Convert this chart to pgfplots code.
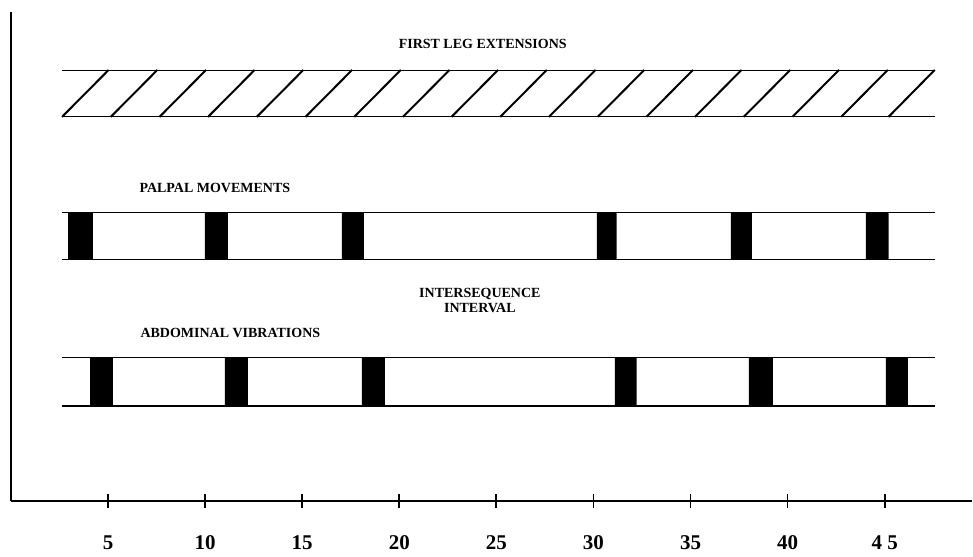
\documentclass[border=0pt]{standalone}
\usepackage{fontspec}
\setmainfont{Liberation Serif}
\usepackage{pgfplots}
\pgfplotsset{compat=1.18}
\begin{document}
\begin{tikzpicture}
\begin{axis}[
  scale only axis, width=481pt, height=245pt,
  xmin=0, xmax=49.5, ymin=0, ymax=490,
  axis x line=bottom, axis y line=left,
  axis line style={-, line width=1pt, black},
  ytick=\empty,
  xtick={5,10,...,45},
  xticklabels={5,10,15,20,25,30,35,40,4 5},
  xtick align=center, major tick length=7pt,
  tick style={line width=0.9pt, black},
  xticklabel style={font=\fontsize{10.5}{12}\selectfont\bfseries, yshift=-10pt},
  clip=false,
  cycle list={{black, solid, line width=1pt, mark=none}},
  unbounded coords=jump,
]
% first leg extensions (hatched band)
\addplot coordinates {(2.63,385) (47.58,385)};
\addplot coordinates {(2.63,432) (47.58,432)};
\addplot coordinates {
  (2.63,385) (5.03,432) (nan,nan)
  (5.14,385) (7.54,432) (nan,nan)
  (7.65,385) (10.05,432) (nan,nan)
  (10.15,385) (12.55,432) (nan,nan)
  (12.66,385) (15.06,432) (nan,nan)
  (15.17,385) (17.57,432) (nan,nan)
  (17.68,385) (20.08,432) (nan,nan)
  (20.19,385) (22.59,432) (nan,nan)
  (22.69,385) (25.09,432) (nan,nan)
  (25.20,385) (27.60,432) (nan,nan)
  (27.71,385) (30.11,432) (nan,nan)
  (30.22,385) (32.62,432) (nan,nan)
  (32.73,385) (35.13,432) (nan,nan)
  (35.23,385) (37.63,432) (nan,nan)
  (37.74,385) (40.14,432) (nan,nan)
  (40.25,385) (42.65,432) (nan,nan)
  (42.76,385) (45.16,432) (nan,nan)
  (45.20,385) (47.58,432)
};
% palpal movements
\addplot coordinates {(2.63,242) (47.58,242)};
\addplot coordinates {(2.63,289) (47.58,289)};
\addplot[fill=black, draw=none, mark=none] coordinates {
  (2.94,242) (4.22,242) (4.22,289) (2.94,289) (nan,nan)
  (9.99,242) (11.17,242) (11.17,289) (9.99,289) (nan,nan)
  (17.04,242) (18.18,242) (18.18,289) (17.04,289) (nan,nan)
  (30.18,242) (31.20,242) (31.20,289) (30.18,289) (nan,nan)
  (37.08,242) (38.16,242) (38.16,289) (37.08,289) (nan,nan)
  (44.03,242) (45.21,242) (45.21,289) (44.03,289)
};
% abdominal vibrations
\addplot coordinates {(2.63,96) (47.58,96)};
\addplot coordinates {(2.63,144) (47.58,144)};
\addplot[fill=black, draw=none, mark=none] coordinates {
  (4.07,96) (5.25,96) (5.25,144) (4.07,144) (nan,nan)
  (11.02,96) (12.20,96) (12.20,144) (11.02,144) (nan,nan)
  (18.07,96) (19.26,96) (19.26,144) (18.07,144) (nan,nan)
  (31.10,96) (32.23,96) (32.23,144) (31.10,144) (nan,nan)
  (38.00,96) (39.24,96) (39.24,144) (38.00,144) (nan,nan)
  (45.06,96) (46.19,96) (46.19,144) (45.06,144)
};
\begin{scope}[every node/.style={font=\fontsize{7}{7.5}\selectfont\bfseries, inner sep=0pt}]
\node at (axis cs:24.3,458) {FIRST LEG EXTENSIONS};
\node at (axis cs:10.5,314) {PALPAL MOVEMENTS};
\node at (axis cs:11.3,169) {ABDOMINAL VIBRATIONS};
\node[align=center] at (axis cs:24.15,201.5) {INTERSEQUENCE\\INTERVAL};
\end{scope}
\path (rel axis cs:0,0) ++(-5.5pt,-24pt);
\path (rel axis cs:1,1) ++(0pt,6pt);
\end{axis}
\end{tikzpicture}
\end{document}
